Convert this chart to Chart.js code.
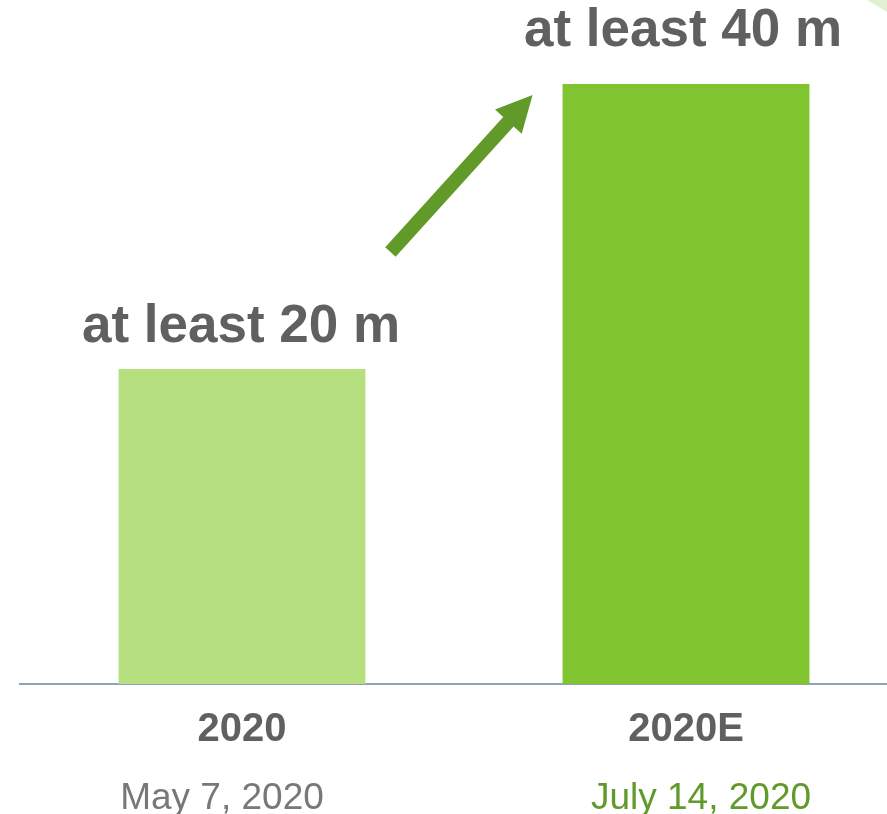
<!DOCTYPE html>
<html>
<head>
<meta charset="utf-8">
<script src="https://cdn.jsdelivr.net/npm/chart.js@4.4.0/dist/chart.umd.min.js"></script>
<style>
  html, body { margin: 0; padding: 0; background: #fff; overflow: hidden; }
  #wrap { position: relative; width: 908px; height: 814px; }
  #corner {
    position: absolute; left: 867px; top: 0; width: 20px; height: 12px;
    background: #e1f1cf; clip-path: polygon(0 0, 100% 0, 100% 100%);
  }
</style>
</head>
<body>
<div id="wrap">
  <canvas id="chart" width="908" height="814"></canvas>
</div>
<div id="corner"></div>
<script>
const categories = ['2020', '2020E'];
const dates = ['May 7, 2020', 'July 14, 2020'];
const values = [21, 40];
const barLabels = ['at least 20 m', 'at least 40 m'];

const barColors = ['#b6e080', '#80c430'];
const dateColors = ['#787878', '#5f9a2a'];
const textGrey = '#606060';
const fontFamily = '"Liberation Sans", Arial, sans-serif';

// text above each bar, dates under the axis, arrow between the bars
const annotate = {
  id: 'annotate',
  afterDatasetsDraw(chart) {
    const ctx = chart.ctx;
    const bars = chart.getDatasetMeta(0).data;
    const xs = chart.scales.x;
    const lift = [27, 38];
    const dateShift = [-20, 15];

    ctx.save();
    ctx.font = 'bold 53px ' + fontFamily;
    ctx.fillStyle = textGrey;
    ctx.textAlign = 'center';
    ctx.textBaseline = 'alphabetic';
    bars.forEach((bar, i) => {
      ctx.fillText(barLabels[i], bar.x - 1 - i * 2, bar.y - lift[i]);
    });

    ctx.font = '37px ' + fontFamily;
    dates.forEach((d, i) => {
      ctx.fillStyle = dateColors[i];
      ctx.fillText(d, xs.getPixelForValue(i) + dateShift[i], chart.chartArea.bottom + 125);
    });

    // arrow
    const b1 = bars[0], b2 = bars[1];
    const x0 = b1.x + b1.width / 2 + 25, y0 = b1.y - 117;
    const x1 = b2.x - b2.width / 2 - 30, y1 = b2.y + 11;
    const ang = Math.atan2(y1 - y0, x1 - x0);
    const headLen = 36, headHalf = 18, shaft = 7;
    const bx = x1 - headLen * Math.cos(ang), by = y1 - headLen * Math.sin(ang);
    const nx = -Math.sin(ang), ny = Math.cos(ang);
    ctx.fillStyle = '#629a2a';
    ctx.beginPath();
    ctx.moveTo(x0 + nx * shaft, y0 + ny * shaft);
    ctx.lineTo(bx + nx * shaft, by + ny * shaft);
    ctx.lineTo(bx + nx * headHalf, by + ny * headHalf);
    ctx.lineTo(x1, y1);
    ctx.lineTo(bx - nx * headHalf, by - ny * headHalf);
    ctx.lineTo(bx - nx * shaft, by - ny * shaft);
    ctx.lineTo(x0 - nx * shaft, y0 - ny * shaft);
    ctx.closePath();
    ctx.fill();
    ctx.restore();
  }
};

new Chart(document.getElementById('chart'), {
  type: 'bar',
  data: {
    labels: categories,
    datasets: [{
      data: values,
      backgroundColor: barColors,
      borderWidth: 0,
      barPercentage: 1,
      categoryPercentage: 0.556
    }]
  },
  options: {
    responsive: false,
    animation: false,
    layout: { padding: { left: 20, right: 0, top: 0, bottom: 0 } },
    plugins: { legend: { display: false }, tooltip: { enabled: false } },
    scales: {
      y: { display: false, min: 0, max: 45.6 },
      x: {
        position: 'bottom',
        grid: { display: false, drawTicks: false },
        border: { display: true, color: '#8fa3b8', width: 2 },
        ticks: {
          padding: 22,
          color: textGrey,
          font: { family: fontFamily, size: 40, weight: 'bold' },
          callback: function (v, i) { return categories[i]; }
        },
        afterFit: (s) => { s.height = 130; }
      }
    }
  },
  plugins: [annotate]
});
</script>
</body>
</html>
